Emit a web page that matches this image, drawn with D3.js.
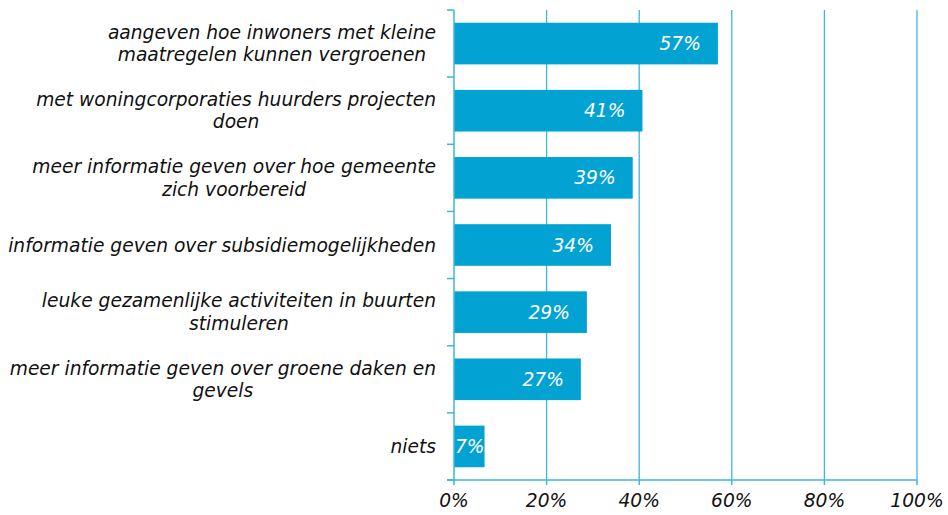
<!DOCTYPE html>
<html>
<head>
<meta charset="utf-8">
<script src="https://cdn.jsdelivr.net/npm/d3@7"></script>
<style>
  body { margin: 0; background: #fff; }
  svg text { font-family: "DejaVu Sans", Verdana, sans-serif; font-style: italic; }
</style>
</head>
<body>
<svg id="chart" width="948" height="515"></svg>
<script>
// categories, each split into the lines shown on the chart
const categories = [
  ["aangeven hoe inwoners met kleine", "maatregelen kunnen vergroenen "],
  ["met woningcorporaties huurders projecten", "doen"],
  ["meer informatie geven over hoe gemeente", "zich voorbereid"],
  ["informatie geven over subsidiemogelijkheden"],
  ["leuke gezamenlijke activiteiten in buurten", "stimuleren"],
  ["meer informatie geven over groene daken en", "gevels"],
  ["niets"]
]
const values = [57, 40.7, 38.6, 33.9, 28.7, 27.4, 6.6]
const xTicks = [0, 20, 40, 60, 80, 100]

const barColor = "#02a3d2"
const lineColor = "#3db6e0"
const fontSize = 18.67

const svg = d3.select("#chart")
const plotLeft = 454, plotRight = 917, plotTop = 10, plotBottom = 480

const x = d3.scaleLinear().domain([0, 100]).range([plotLeft, plotRight])
const y = d3.scaleBand().domain(d3.range(categories.length)).range([plotTop, plotBottom]).paddingInner(0.38).paddingOuter(0.19)

// gridlines
svg.append("g").selectAll("line")
  .data(xTicks.slice(1))
  .join("line")
  .attr("x1", d => x(d)).attr("x2", d => x(d))
  .attr("y1", plotTop).attr("y2", plotBottom)
  .attr("stroke", lineColor).attr("stroke-width", 1.3)

// bars
svg.append("g").selectAll("rect")
  .data(values)
  .join("rect")
  .attr("x", x(0))
  .attr("y", (d, i) => y(i))
  .attr("width", d => x(d) - x(0))
  .attr("height", y.bandwidth())
  .attr("fill", barColor)

// y axis with ticks between categories
const step = (plotBottom - plotTop) / categories.length
const yAxis = svg.append("g")
yAxis.append("line")
  .attr("x1", plotLeft).attr("x2", plotLeft).attr("y1", plotTop).attr("y2", plotBottom)
  .attr("stroke", lineColor).attr("stroke-width", 1.5)
yAxis.selectAll("line.tick")
  .data(d3.range(categories.length + 1))
  .join("line").attr("class", "tick")
  .attr("x1", plotLeft - 7).attr("x2", plotLeft)
  .attr("y1", d => plotTop + d * step).attr("y2", d => plotTop + d * step)
  .attr("stroke", lineColor).attr("stroke-width", 1.5)

// x axis
const xAxis = svg.append("g")
xAxis.append("line")
  .attr("x1", plotLeft - 7).attr("x2", plotRight).attr("y1", plotBottom).attr("y2", plotBottom)
  .attr("stroke", lineColor).attr("stroke-width", 1.5)
xAxis.selectAll("line.tick")
  .data(xTicks)
  .join("line").attr("class", "tick")
  .attr("x1", d => x(d)).attr("x2", d => x(d))
  .attr("y1", plotBottom).attr("y2", plotBottom + 5)
  .attr("stroke", lineColor).attr("stroke-width", 1.5)
xAxis.selectAll("text")
  .data(xTicks)
  .join("text")
  .attr("x", d => x(d)).attr("y", 507)
  .attr("text-anchor", "middle")
  .attr("font-size", fontSize).attr("fill", "#111")
  .text(d => d + "%")

// category labels: lines centred on each other, widest line flush right
const labelRight = 436
categories.forEach((lines, i) => {
  const g = svg.append("g")
  const texts = lines.map((l, j) => g.append("text")
    .attr("font-size", fontSize).attr("fill", "#111")
    .attr("text-anchor", "middle")
    .attr("dominant-baseline", "central")
    .attr("y", y(i) + y.bandwidth() / 2 + (j - (lines.length - 1) / 2) * 22.5)
    .text(l))
  const maxW = d3.max(texts, t => t.node().getComputedTextLength())
  texts.forEach(t => t.attr("x", labelRight - maxW / 2))
})

// value labels inside bar ends
svg.append("g").selectAll("text")
  .data(values)
  .join("text")
  .attr("y", (d, i) => y(i) + y.bandwidth() / 2)
  .attr("dominant-baseline", "central")
  .attr("font-size", fontSize).attr("fill", "#fff")
  .text(d => Math.round(d) + "%")
  .each(function (d) {
    const w = this.getComputedTextLength()
    this.setAttribute("x", Math.max(x(0) + 1, x(d) - 17 - w))
  })
</script>
</body>
</html>
